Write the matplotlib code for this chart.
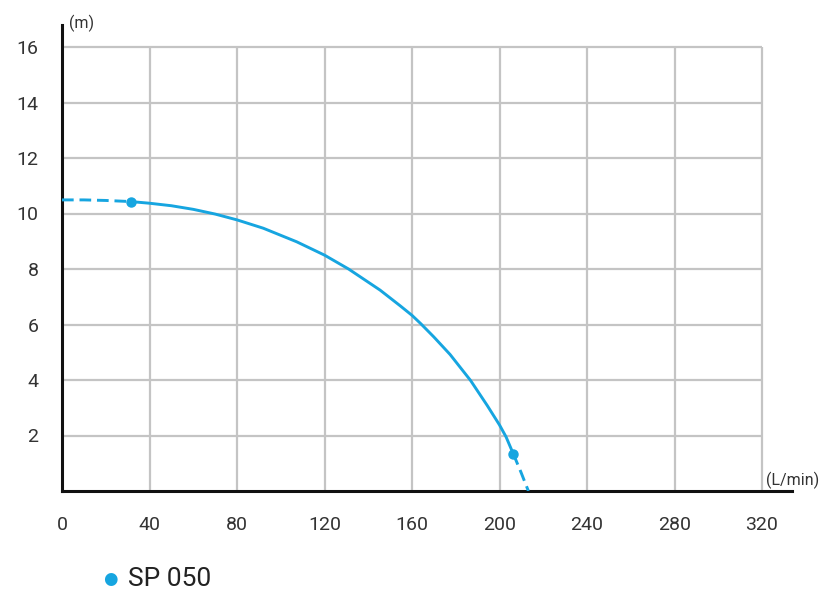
import matplotlib
matplotlib.use("Agg")
import matplotlib.pyplot as plt

# Data
x_ticks = [0, 40, 80, 120, 160, 200, 240, 280, 320]
y_ticks = [2, 4, 6, 8, 10, 12, 14, 16]
y_tick_labels = ["2", "4", "6", "8", "10", "12", "14", "16"]

solid_q = [31.4, 40, 50, 60, 70, 80, 92, 107.3, 120, 131, 145.4, 154.5, 160, 164,
           170, 177.4, 186.8, 194.4, 200, 203, 206.3]
solid_h = [10.43, 10.37, 10.28, 10.15, 9.98, 9.77, 9.47, 8.98, 8.50, 8.0, 7.24, 6.68, 6.33, 6.03,
           5.55, 4.92, 3.98, 3.08, 2.38, 1.95, 1.34]

dash_left_q = [0, 10, 20, 31.4]
dash_left_h = [10.49, 10.49, 10.47, 10.43]
dash_right_q = [206.3, 209.8, 213.2]
dash_right_h = [1.34, 0.68, 0.0]

marker_q = [31.4, 206.3]
marker_h = [10.43, 1.34]

series_name = "SP 050"
x_unit = "(L/min)"
y_unit = "(m)"

blue = "#16a5e0"
grid_c = "#c4c4c4"
text_c = "#333333"

plt.rcParams['font.family'] = ['Roboto', 'DejaVu Sans']

fig = plt.figure(figsize=(8.36, 5.97), dpi=100)
ax = fig.add_axes([62/836, 1-491/597, (792-62)/836, (491-25)/597])
ax.set_xlim(0, (792-62)/2.1875)
ax.set_ylim(0, (491-25)/27.75)

# grid limited to data range
ax.hlines(y_ticks, 0, 320, colors=grid_c, linewidth=1.6, zorder=1)
ax.vlines(x_ticks[1:], 0, 16, colors=grid_c, linewidth=1.6, zorder=1)

for s in ['top', 'right']:
    ax.spines[s].set_visible(False)
for s in ['left', 'bottom']:
    ax.spines[s].set_linewidth(2.2)
    ax.spines[s].set_color('#111111')
    ax.spines[s].set_zorder(3)

ax.plot(solid_q, solid_h, color=blue, linewidth=2.1, solid_joinstyle='round',
        solid_capstyle='round', zorder=4)
ax.plot(dash_left_q, dash_left_h, color=blue, linewidth=2.1, dashes=(4, 2), zorder=4)
ax.plot(dash_right_q, dash_right_h, color=blue, linewidth=2.1, dashes=(4, 2), zorder=4)
ax.plot(marker_q, marker_h, 'o', color=blue, markersize=6.5, zorder=5)

ax.set_xticks(x_ticks)
ax.set_xticklabels([str(v) for v in x_ticks])
ax.set_yticks(y_ticks)
ax.set_yticklabels(y_tick_labels)
ax.tick_params(axis='both', length=0, labelsize=14, labelcolor=text_c)
ax.tick_params(axis='y', pad=17)
ax.tick_params(axis='x', pad=18)

ax.text(3, 16.85, y_unit, fontsize=11.5, color=text_c, ha='left', va='center')
ax.text(322, 0.4, x_unit, fontsize=11.5, color=text_c, ha='left', va='center')

# legend
fig.text(110/836, 1-579/597, "\u25CF", color=blue, fontsize=12, ha='center', va='center')
fig.text(128/836, 1-579/597, series_name, color='#222222', fontsize=19, ha='left', va='center')

fig.savefig("out.png", dpi=100, facecolor='white')
